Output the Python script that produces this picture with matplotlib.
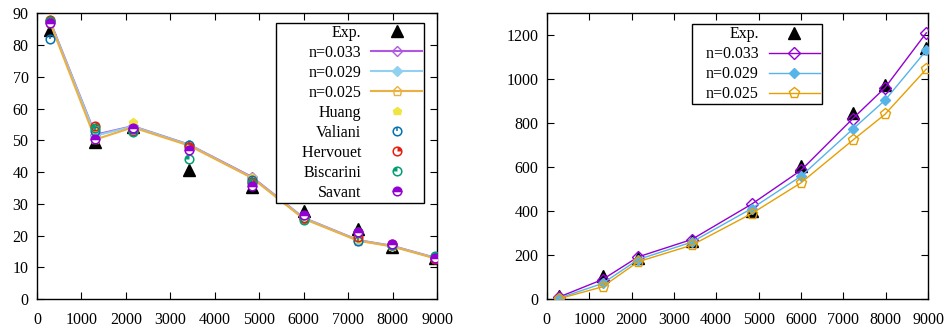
import matplotlib
matplotlib.use("Agg")
import matplotlib.pyplot as plt
from matplotlib.path import Path

x = [300, 1316, 2157, 3418, 4835, 6000, 7221, 7984, 8960]

# left panel
exp_l = [84.8, 49.6, 54.3, 40.6, 35.4, 27.8, 22.0, 16.5, 12.8]
n033_l = [87.5, 51.8, 54.5, 48.7, 38.5, 25.6, 18.6, 16.8, 13.0]
n029_l = [87.3, 51.5, 54.4, 48.6, 38.3, 25.5, 18.5, 16.7, 12.9]
n025_l = [87.0, 50.3, 54.1, 48.4, 38.2, 25.3, 18.4, 16.6, 12.8]
huang = [88.4, 54.0, 55.9, 48.0, 38.0, 26.0, 19.0, 17.5, 13.0]
valiani = [82.1, 53.0, 53.5, 48.5, 37.5, 25.5, 18.3, 17.0, 13.0]
hervouet = [88.0, 54.5, 53.0, 48.0, 37.0, 25.7, 19.5, 17.5, 12.5]
biscarini = [87.5, 54.0, 52.5, 44.2, 36.5, 25.0, 21.0, 17.0, 13.5]
savant = [87.0, 50.4, 54.0, 47.0, 35.7, 26.5, 21.0, 17.2, 12.8]

# right panel
exp_r = [12, 105, 185, 265, 400, 605, 848, 974, 1142]
n033_r = [10, 89, 192, 271, 432, 586, 821, 962, 1212]
n029_r = [5, 71, 180, 259, 412, 559, 773, 905, 1132]
n025_r = [2, 56, 170, 245, 389, 529, 723, 841, 1047]

plt.rcParams['font.family'] = ['Liberation Serif', 'DejaVu Serif']
plt.rcParams['font.size'] = 11.5

PURPLE = '#9400d3'
BLUE = '#56b4e9'
ORANGE = '#e69f00'

tick_mark = Path([(0, 0), (0, 1)], [Path.MOVETO, Path.LINETO])
q_tr = Path.wedge(0, 90)
q_tl = Path.wedge(90, 180)

fig = plt.figure(figsize=(9.46, 3.29), dpi=100)
ax1 = fig.add_axes([0.039, 0.091, 0.423, 0.868])
ax2 = fig.add_axes([0.578, 0.091, 0.403, 0.868])

ms = 6.2
# left panel
h_exp, = ax1.plot(x, exp_l, ls='none', marker='^', ms=9, color='black', zorder=3)
h33, = ax1.plot(x, n033_l, color='#b158e3', lw=1.5, marker='D', ms=5, mfc='none', zorder=4)
h29, = ax1.plot(x, n029_l, color='#90d0f0', lw=1.5, marker='D', ms=5, zorder=4)
h25, = ax1.plot(x, n025_l, color='#ebb040', lw=1.5, marker='p', ms=6.5, mfc='none', zorder=4)
hh, = ax1.plot(x, huang, ls='none', marker='p', ms=ms, color='#f0e442', zorder=5)

def open_circle(ax, y, c):
    return ax.plot(x, y, ls='none', marker='o', ms=ms, mfc='none', mec=c, mew=1.1, zorder=5)[0]

hv1 = open_circle(ax1, valiani, '#0072b2')
hv2, = ax1.plot(x, valiani, ls='none', marker=tick_mark, ms=ms, mec='#0072b2', mew=1.1, zorder=5)
hr1 = open_circle(ax1, hervouet, '#e51e10')
hr2, = ax1.plot(x, hervouet, ls='none', marker=q_tr, ms=ms, color='#e51e10', mew=0, zorder=5)
hb1 = open_circle(ax1, biscarini, '#009e73')
hb2, = ax1.plot(x, biscarini, ls='none', marker=q_tl, ms=ms, color='#009e73', mew=0, zorder=5)
hs, = ax1.plot(x, savant, ls='none', marker='o', ms=ms, fillstyle='top', color=PURPLE,
               mfc=PURPLE, mfcalt='white', mew=1.1, zorder=5)

ax1.set_xlim(0, 9000)
ax1.set_ylim(0, 90)
ax1.set_xticks(range(0, 9001, 1000))
ax1.set_yticks(range(0, 91, 10))
leg_kw = dict(markerfirst=False, fancybox=False, edgecolor='black', framealpha=1,
              handlelength=3.2, labelspacing=0.25, borderpad=0.12, handletextpad=0.6,
              borderaxespad=0)
# leading spaces give the wide left margin of the gnuplot key
leg1 = ax1.legend([h_exp, h33, h29, h25, hh, (hv1, hv2), (hr1, hr2), (hb1, hb2), hs],
                  ['Exp.', 'n=0.033', 'n=0.029', 'n=0.025', 'Huang', 'Valiani',
                   '      Hervouet', 'Biscarini', 'Savant'],
                  loc='upper right', bbox_to_anchor=(0.9675, 0.967), **leg_kw)
leg1.get_frame().set_linewidth(1.0)

# right panel
h_e2, = ax2.plot(x, exp_r, ls='none', marker='^', ms=9, color='black', zorder=3)
h33r, = ax2.plot(x, n033_r, color=PURPLE, lw=1, marker='D', ms=6, mfc='none', zorder=4)
h29r, = ax2.plot(x, n029_r, color=BLUE, lw=1, marker='D', ms=5.5, zorder=4)
h25r, = ax2.plot(x, n025_r, color=ORANGE, lw=1, marker='p', ms=8, mfc='none', zorder=4)
ax2.set_xlim(0, 9000)
ax2.set_ylim(0, 1300)
ax2.set_xticks(range(0, 9001, 1000))
ax2.set_yticks(range(0, 1201, 200))
leg2 = ax2.legend([h_e2, h33r, h29r, h25r], ['Exp.', '   n=0.033', 'n=0.029', 'n=0.025'],
                  loc='upper left', bbox_to_anchor=(0.382, 0.9625), **leg_kw)
leg2.get_frame().set_linewidth(1.0)

for ax in (ax1, ax2):
    ax.tick_params(direction='in', top=True, right=True, length=5, width=0.8)
    ax.tick_params(axis='x', pad=9)
    ax.tick_params(axis='y', pad=6)
    for sp in ax.spines.values():
        sp.set_linewidth(1.0)

fig.savefig('out.png', dpi=100)
